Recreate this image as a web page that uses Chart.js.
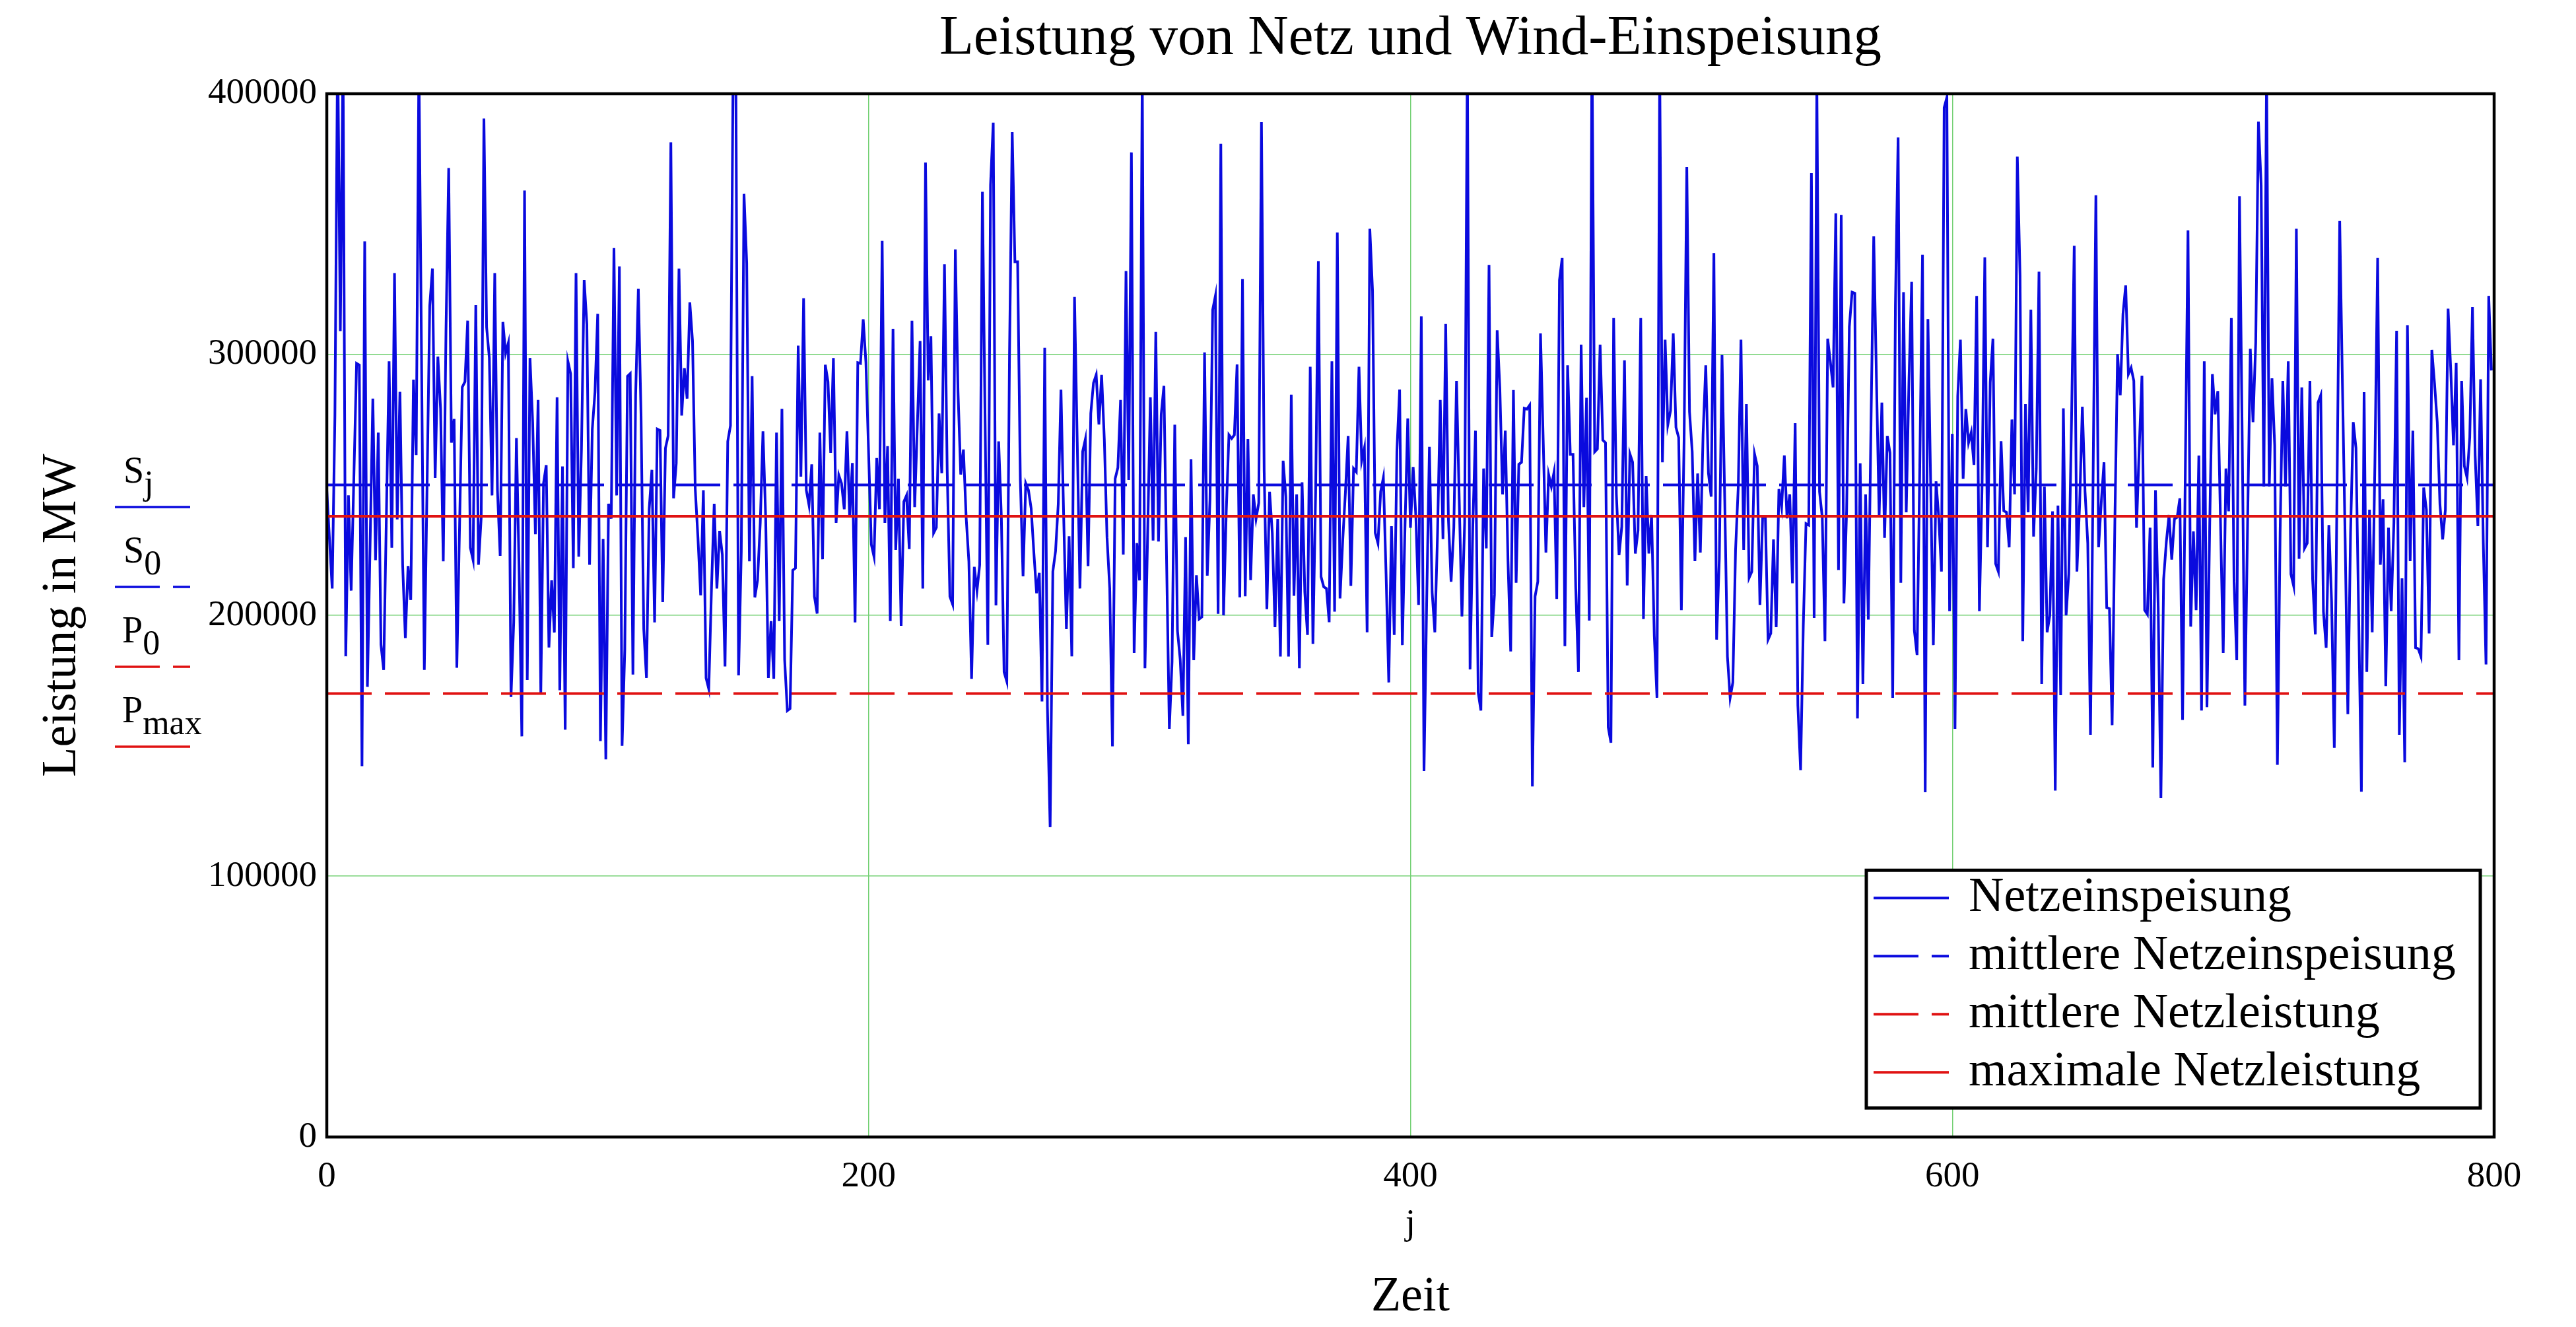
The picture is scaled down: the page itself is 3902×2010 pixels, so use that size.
<!DOCTYPE html>
<html>
<head>
<meta charset="utf-8">
<script src="https://cdn.jsdelivr.net/npm/chart.js@4/dist/chart.umd.min.js"></script>
<style>
  html, body { margin: 0; padding: 0; background: #fff; }
  #wrap { width: 3902px; height: 2010px; }
</style>
</head>
<body>
<div id="wrap"><canvas id="myChart" width="3902" height="2010"></canvas></div>
<script>
// axis ticks
const xTicks = [0, 200, 400, 600, 800];
const yTicks = [0, 100000, 200000, 300000, 400000];

// S_j : Netzeinspeisung, one value per time step j (null = not readable)
const feedIn = [
  248000, null, 210300, 276600, 420000, 309000, 415000, 184300, 246000, 209500,
  null, 296600, 296000, 142200, 343400, 172600, null, 283100, 221200, 270100,
  188700, 179100, null, 297400, 225900, 331200, 236800, 285700, 219400, 191300,
  218900, 205900, 290400, 261500, 412000, null, 179100, null, 318700, 333000,
  252700, 299200, 279200, 220700, 309100, 371500, 266200, 275300, 179900, null,
  287500, 289600, 313000, 225900, 221200, 319000, 219400, 237600, 390500, 310400,
  298700, 246000, 331200, 248000, 222800, 312500, 300500, 304400, 168700, 197300,
  268000, 216800, 153600, 362900, 175200, 298700, 274000, 231100, 282600, 170000,
  250600, 257600, 187700, 213400, 193400, 283600, 171300, 257100, 156200, 297400,
  292700, 218100, 331200, 222500, 263600, 328600, 311700, 219400, 271400, 285700,
  315600, 151800, 229300, 144800, 242800, 237100, 340800, 246000, 333800, 150000,
  186900, 291700, 292700, 177300, 284400, 325200, 276600, 194700, 176000, 240700,
  255800, 197300, 271400, 270900, 205100, 264100, 268800, 381400, 244900, 258400,
  333000, 276600, 294800, 283100, 320000, 305200, 248500, 229800, 207700, 248000,
  176000, 171800, 210300, 242800, 210300, 232400, 223300, 180400, 266700, 272700,
  412000, 405000, 177000, 224600, 361600, 335100, 220700, 291700, 206900, 213400,
  235500, 270600, 237600, 176000, 197800, 175700, 270100, 197800, 279200, 183000,
  163500, 164300, 217300, 218100, 303400, 253200, 321600, 248000, 242300, 257900,
  207200, 200700, 270100, 221500, 296100, 289600, 262300, 298700, 235500, 253700,
  250600, 240700, 270600, 237600, 258400, 197300, 296900, 296600, 313500, 297000,
  null, 227200, 222500, 260300, 240700, 343600, 235500, 264900, 197800, 309900,
  225100, 252400, 196000, 243600, 246000, 225400, 313000, 241500, null, 305200,
  210300, 373600, 290100, 307000, 231600, 233700, 277400, 254500, 334600, 255800,
  207200, 204300, 340300, 285700, 254000, 263600, 237600, 220700, 175700, 218600,
  209500, 219400, 362400, 274000, 188700, 365000, 388900, 203800, 266700, 237600,
  178300, 174700, 300000, 385300, 335600, 335600, 251900, 215000, 250600, 248000,
  241000, 223900, 208500, 216300, 167000, 302600, 164800, 118800, 216800, 224600,
  242800, 286500, 237600, 194700, 230300, 184300, 322100, 266700, 210300, 262800,
  267500, 218900, 277400, 289100, 292200, 273200, 292200, 267500, 229800, 210300,
  149800, 252400, 256600, 282600, 223300, 332000, 251900, 377500, 185600, 227700,
  213400, 410000, 179700, null, 283600, 228700, 308700, 228300, 277100, 288000,
  219800, 156500, 182200, 273100, 194100, 183200, 161500, 230000, 150600, 259900,
  182800, 215400, 198600, 199400, 300800, 215200, 244500, 317200, 322500, 200600,
  380800, 200000, 239500, 269200, 267800, 269200, 296200, 206900, 328900, 207300,
  267600, 213500, 246400, 237000, 243100, 389100, 255300, 202400, 247400, 231600,
  195500, 237000, 184200, 259300, 245500, 184200, 284600, 207500, 246400, 179700,
  251000, 208900, 192500, 295300, 189100, 247400, 335800, 214800, 210900, 210300,
  197400, 297400, 201400, 346800, 206500, 228700, 247400, 268800, 211300, 256300,
  255000, 295300, 259300, 264200, 193500, 348200, 324500, 231600, 227700, 247400,
  252800, 215800, 174300, 234200, 192500, 263200, 286600, 188600, 234600, 275500,
  233600, 256900, 237600, 204000, 314600, 140300, 206000, 264600, 208900, 193500,
  231600, 282600, 229300, 311700, 237000, 212900, 233600, 289900, 244500, 199600,
  235600, 415000, 179300, 233600, 270800, 170400, 163500, 256300, 225700, 334400,
  191700, 207900, 309300, 287000, 246400, 270800, 220800, 186200, 286400, 212500,
  257900, 258700, 279400, 279100, 280600, 134400, 207300, 212900, 308100, 267200,
  224100, 254000, 249400, 254900, 206300, 328500, 337000, 188200, 295900, 261700,
  261700, 210900, 178300, 303800, 241500, 283400, 198000, 420000, 262700, 263800,
  303800, 267200, 266200, 157100, 151200, 314000, 246400, 223100, 234000, 297800,
  211500, 261900, 258700, 223700, 232600, 314000, 198600, 253400, 223700, 238500,
  192100, 168400, 410000, 258700, 305700, 273100, 278500, 308100, 272100, 268200,
  202000, 267200, 371900, 278100, 262700, 220800, 254400, 224100, 269200, 295900,
  254400, 245500, 338900, 190700, 221700, 299800, 244500, 184200, 168400, 174300,
  225100, 249400, 305700, 225100, 281000, 214400, 216800, 261900, 257300, 204000,
  237600, 237600, 190700, 193100, 229100, 195500, 248400, 241500, 261300, 237200,
  246400, 212300, 273700, 165400, 140700, 196100, 235200, 234600, 369600, 199000,
  405000, 247400, 237600, 190100, 306100, 297200, 287400, 354100, 217400, 353500,
  204600, 240500, 310700, 323900, 323500, 160500, 258300, 173700, 246400, 198400,
  274100, 345300, 290900, 238200, 281600, 229700, 268800, 262300, 168400, 318600,
  383200, 212500, 323900, 239500, 289900, 327900, 194100, 184800, 257300, 338300,
  132200, 313600, 251400, 188600, 251400, 237600, 216800, 394700, 398600, 201600,
  269600, 156500, 284000, 305700, 252400, 279100, 266200, 270200, 257700, 322500,
  201600, 250400, 337300, 226100, 289300, 306100, 219800, 216800, 266800, 240100,
  239500, 226100, 275100, 246400, 375900, 330400, 190100, 281000, 239500, 317200,
  230200, 256300, 331800, 173700, 249400, 193500, 200000, 239900, 132800, 242100,
  169400, 279400, 200000, 215800, 274100, 341700, 216800, 242500, 280000, 247400,
  227700, 154200, 256300, 361100, 226100, 243500, 258700, 203000, 202600, 157900,
  235600, 300200, 284400, 315600, 326500, 292500, 294900, 289900, 233600, 264200,
  291900, 202000, 200400, 233600, 141700, 248000, 203000, 129900, 213800, 228100,
  238500, 221400, 237000, 237600, 244900, 159900, 254700, 347600, 195700, 232200,
  202000, 261300, 163500, 297400, 164800, 233600, 292500, 277100, 286000, null,
  185600, 256300, 239900, 314000, 212900, 182800, 360700, 269200, 165400, 235600,
  302200, 274100, 304700, 389300, 365000, 249400, 410000, 249400, 290900, 265200,
  142700, 231600, 289900, 249400, 297400, 215800, 211300, 348200, 221700, 287400,
  225700, 227700, 289900, 213800, 192700, 281600, 284400, 201400, 187600, 234600,
  205300, 149200, 247400, 351200, 288900, 229700, 162100, 231600, 274100, 264200,
  200000, 132400, 285600, 178300, 240500, 193500, 259300, 337000, 219400, 244500,
  172900, 233600, 201600, 235600, 309100, 154200, 214200, 143700, 311300, 220800,
  270800, 187600, 187200, 184200, 249000, 240500, 193100, 301800, 288900, 274100,
  242500, 229100, 240500, 317600, 293900, 265200, 296800, 182800, 289900, 257300,
  252800, 268200, 318200, 261300, 234200, 290500, 227700, 181200, 322500, 293900
];
const jValues = feedIn.map((v, j) => j);

// constant levels
const meanFeedIn = 250000;   // S_0
const meanLoad = 170000;     // P_0
const maxLoad = 238000;      // P_max

const seriesNames = ['Netzeinspeisung', 'mittlere Netzeinspeisung', 'mittlere Netzleistung', 'maximale Netzleistung'];
const seriesSymbols = [['S', 'j'], ['S', '0'], ['P', '0'], ['P', 'max']];

const serif = "'Liberation Serif', 'Times New Roman', serif";
const blue = '#0a0ade';
const red = '#e01212';
const dash = [68, 20];

function level(v) {
  return [{ x: xTicks[0], y: v }, { x: xTicks[xTicks.length - 1], y: v }];
}

function sample(ctx, ds, x0, x1, y, w) {
  ctx.save();
  ctx.strokeStyle = ds.borderColor;
  ctx.lineWidth = w;
  ctx.setLineDash(ds.borderDash || []);
  ctx.beginPath();
  ctx.moveTo(x0, y);
  ctx.lineTo(x1, y);
  ctx.stroke();
  ctx.restore();
}

// frame round the plot, boxed legend and the symbol keys
const frameAndKeys = {
  id: 'frameAndKeys',
  afterDatasetsDraw(chart) {
    const { ctx, chartArea: a } = chart;
    const sets = chart.data.datasets;
    ctx.save();
    ctx.strokeStyle = '#000';
    ctx.lineWidth = 4.5;
    ctx.strokeRect(a.left, a.top, a.right - a.left, a.bottom - a.top);

    const bw = 930, bh = 360;
    const bx = a.right - 21 - bw, by = a.bottom - 44 - bh;
    ctx.fillStyle = '#fff';
    ctx.fillRect(bx, by, bw, bh);
    ctx.lineWidth = 5;
    ctx.strokeRect(bx, by, bw, bh);
    ctx.font = '74px ' + serif;
    ctx.textBaseline = 'middle';
    ctx.textAlign = 'left';
    sets.forEach((ds, i) => {
      const y = by + 42 + i * 88;
      sample(ctx, ds, bx + 11, bx + 125, y, 4);
      ctx.fillStyle = '#000';
      ctx.fillText(ds.label, bx + 155, y);
    });

    ctx.textBaseline = 'alphabetic';
    sets.forEach((ds, i) => {
      const y = 768 + i * 121;
      sample(ctx, ds, 174, 288, y, 3.5);
      const [main, sub] = seriesSymbols[i];
      ctx.fillStyle = '#000';
      ctx.font = '56px ' + serif;
      const x0 = main === 'S' ? 187 : 185;
      ctx.fillText(main, x0, y - 37);
      const mw = ctx.measureText(main).width;
      ctx.font = '52px ' + serif;
      ctx.fillText(sub, x0 + mw, y - 19);
    });
    ctx.restore();
  }
};

const lineStyle = { pointRadius: 0, tension: 0, clip: 0, fill: false };

new Chart('myChart', {
  type: 'line',
  data: {
    labels: jValues,
    datasets: [
      { ...lineStyle, label: seriesNames[0], data: feedIn, borderColor: blue, borderWidth: 4, spanGaps: true, order: 5 },
      { ...lineStyle, label: seriesNames[1], data: level(meanFeedIn), borderColor: blue, borderWidth: 4, borderDash: dash, order: 3 },
      { ...lineStyle, label: seriesNames[2], data: level(meanLoad), borderColor: red, borderWidth: 4, borderDash: dash, order: 2 },
      { ...lineStyle, label: seriesNames[3], data: level(maxLoad), borderColor: red, borderWidth: 4, order: 1 }
    ]
  },
  options: {
    responsive: false,
    animation: false,
    devicePixelRatio: 1,
    events: [],
    layout: { padding: { left: 50, right: 124, top: 0, bottom: 0 } },
    plugins: {
      legend: { display: false },
      tooltip: { enabled: false },
      title: {
        display: true,
        text: 'Leistung von Netz und Wind-Einspeisung',
        fullSize: false,
        color: '#000',
        font: { family: serif, size: 85, weight: 'normal' },
        padding: { top: 9, bottom: 31 }
      },
      subtitle: {
        display: true,
        text: 'Zeit',
        position: 'bottom',
        fullSize: false,
        color: '#000',
        font: { family: serif, size: 74, weight: 'normal' },
        padding: 0
      }
    },
    scales: {
      x: {
        type: 'linear',
        min: xTicks[0],
        max: xTicks[xTicks.length - 1],
        afterBuildTicks: s => { s.ticks = xTicks.map(v => ({ value: v })); },
        afterFit: s => { s.height = 199; },
        ticks: {
          autoSkip: false, maxRotation: 0, padding: 27, color: '#000',
          font: { family: serif, size: 55 },
          callback: v => String(v)
        },
        grid: { color: '#72d072', lineWidth: 1.5, drawTicks: false },
        border: { display: false },
        title: {
          display: true, text: 'j', color: '#000',
          font: { family: serif, size: 55 },
          padding: { top: 0, bottom: 34 }
        }
      },
      y: {
        min: yTicks[0],
        max: yTicks[yTicks.length - 1],
        afterBuildTicks: s => { s.ticks = yTicks.map(v => ({ value: v })); },
        afterFit: s => { s.width = 445; },
        ticks: {
          padding: 15, color: '#000',
          font: { family: serif, size: 55 },
          callback: v => String(v)
        },
        grid: { color: '#72d072', lineWidth: 1.5, drawTicks: false },
        border: { display: false },
        title: {
          display: true, text: 'Leistung in MW', color: '#000',
          font: { family: serif, size: 74 },
          padding: 0
        }
      }
    }
  },
  plugins: [frameAndKeys]
});
</script>
</body>
</html>
